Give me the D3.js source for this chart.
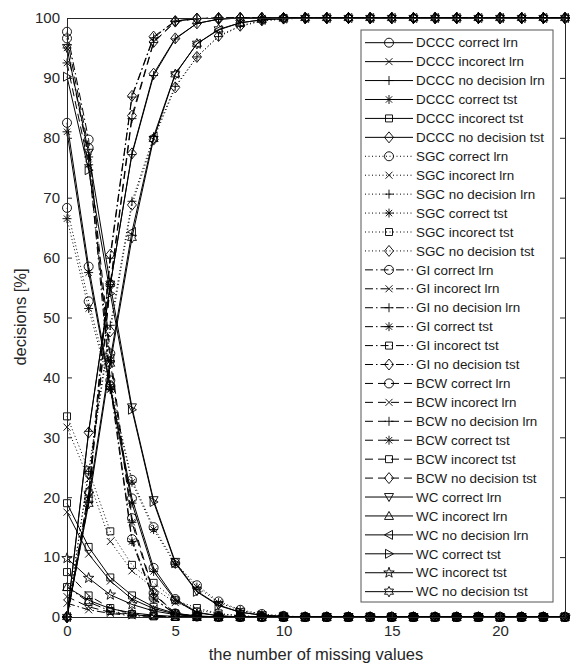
<!DOCTYPE html>
<html>
<head>
<meta charset="utf-8">
<script src="https://cdn.jsdelivr.net/npm/d3@7"></script>
<style>
  body { margin: 0; background: #fff; }
  text { font-family: "Liberation Sans", Arial, sans-serif; }
</style>
</head>
<body>
<script>
// x = number of missing values
var xVals = [0,1,2,3,4,5,6,7,8,9,10,11,12,13,14,15,16,17,18,19,20,21,22,23];
var xTicks = [0,5,10,15,20];
var yTicks = [0,10,20,30,40,50,60,70,80,90,100];

// DCCC
var dcccCorLrn = [82.5,58.5,38.5,19.8,8.2,3.0,0.8,0.2,0,0,0,0, 0,0,0,0,0,0,0,0,0,0,0,0];
var dcccIncLrn = [17.5,10.5,6.0,3.0,1.4,0.5,0.1,0,0,0,0,0, 0,0,0,0,0,0,0,0,0,0,0,0];
var dcccNoLrn  = [0,31.0,55.5,77.2,90.4,96.5,99.1,99.8,100,100,100,100, 100,100,100,100,100,100,100,100,100,100,100,100];
var dcccCorTst = [81.0,57.5,38.0,19.0,7.6,2.8,0.7,0.2,0,0,0,0, 0,0,0,0,0,0,0,0,0,0,0,0];
var dcccIncTst = [19.0,11.7,6.6,3.6,1.7,0.6,0.2,0,0,0,0,0, 0,0,0,0,0,0,0,0,0,0,0,0];
var dcccNoTst  = [0,30.8,55.4,77.4,90.7,96.6,99.1,99.8,100,100,100,100, 100,100,100,100,100,100,100,100,100,100,100,100];
// SGC
var sgcCorLrn = [68.3,52.7,38.7,22.9,15.0,9.0,5.3,2.6,1.2,0.5,0.2,0, 0,0,0,0,0,0,0,0,0,0,0,0];
var sgcIncLrn = [31.7,23.0,12.6,7.7,4.8,2.4,1.2,0.5,0.2,0,0,0, 0,0,0,0,0,0,0,0,0,0,0,0];
var sgcNoLrn  = [0,24.3,48.7,69.4,80.2,88.6,93.5,96.9,98.6,99.5,99.8,100, 100,100,100,100,100,100,100,100,100,100,100,100];
var sgcCorTst = [66.5,51.5,38.0,22.5,14.6,8.8,5.0,2.4,1.1,0.4,0.1,0, 0,0,0,0,0,0,0,0,0,0,0,0];
var sgcIncTst = [33.5,24.5,14.3,8.7,5.7,2.8,1.5,0.6,0.2,0,0,0, 0,0,0,0,0,0,0,0,0,0,0,0];
var sgcNoTst  = [0,24.0,47.7,68.8,79.7,88.4,93.5,97.0,98.7,99.6,99.9,100, 100,100,100,100,100,100,100,100,100,100,100,100];
// GI
var giCorLrn = [97.7,79.7,39.5,13.0,3.2,0.5,0.1,0,0,0,0,0, 0,0,0,0,0,0,0,0,0,0,0,0];
var giIncLrn = [2.3,1.2,0.6,0.2,0.1,0,0,0,0,0,0,0, 0,0,0,0,0,0,0,0,0,0,0,0];
var giNoLrn  = [0,19.1,59.9,86.8,96.7,99.5,99.9,100,100,100,100,100, 100,100,100,100,100,100,100,100,100,100,100,100];
var giCorTst = [95.0,76.8,38.5,12.6,3.0,0.5,0.1,0,0,0,0,0, 0,0,0,0,0,0,0,0,0,0,0,0];
var giIncTst = [5.0,2.5,1.0,0.4,0.1,0,0,0,0,0,0,0, 0,0,0,0,0,0,0,0,0,0,0,0];
var giNoTst  = [0,20.7,60.5,87.0,96.9,99.5,99.9,100,100,100,100,100, 100,100,100,100,100,100,100,100,100,100,100,100];
// BCW
var bcwCorLrn = [96.6,78.3,44.0,16.5,4.0,0.6,0.1,0,0,0,0,0, 0,0,0,0,0,0,0,0,0,0,0,0];
var bcwIncLrn = [3.4,1.7,0.8,0.3,0.1,0,0,0,0,0,0,0, 0,0,0,0,0,0,0,0,0,0,0,0];
var bcwNoLrn  = [0,20.0,55.2,83.2,95.9,99.4,99.9,100,100,100,100,100, 100,100,100,100,100,100,100,100,100,100,100,100];
var bcwCorTst = [92.5,75.5,42.8,15.8,3.8,0.6,0.1,0,0,0,0,0, 0,0,0,0,0,0,0,0,0,0,0,0];
var bcwIncTst = [7.5,3.6,1.5,0.5,0.2,0,0,0,0,0,0,0, 0,0,0,0,0,0,0,0,0,0,0,0];
var bcwNoTst  = [0,20.9,55.7,83.7,96.0,99.4,99.9,100,100,100,100,100, 100,100,100,100,100,100,100,100,100,100,100,100];
// WC
var wcCorLrn = [95.0,77.5,55.5,35.0,19.5,9.2,4.3,2.0,0.8,0.3,0.1,0, 0,0,0,0,0,0,0,0,0,0,0,0];
var wcIncLrn = [5.0,2.8,1.4,0.7,0.3,0.1,0,0,0,0,0,0, 0,0,0,0,0,0,0,0,0,0,0,0];
var wcNoLrn  = [0,19.7,43.1,64.3,80.2,90.7,95.7,98.0,99.2,99.7,99.9,100, 100,100,100,100,100,100,100,100,100,100,100,100];
var wcCorTst = [90.2,74.6,54.0,34.6,19.2,9.0,4.2,1.9,0.8,0.3,0.1,0, 0,0,0,0,0,0,0,0,0,0,0,0];
var wcIncTst = [9.8,6.5,3.7,2.1,1.0,0.4,0.1,0,0,0,0,0, 0,0,0,0,0,0,0,0,0,0,0,0];
var wcNoTst  = [0,18.9,42.3,63.3,79.8,90.6,95.7,98.1,99.2,99.7,99.9,100, 100,100,100,100,100,100,100,100,100,100,100,100];

var SOLID = null, DOT = "1,2.5", DASHDOT = "8,3,1.5,3", DASH = "8,5";

var series = [
  {name: "DCCC correct lrn",      vals: dcccCorLrn, dash: SOLID,   mk: "o"},
  {name: "DCCC incorect lrn",     vals: dcccIncLrn, dash: SOLID,   mk: "x"},
  {name: "DCCC no decision lrn",  vals: dcccNoLrn,  dash: SOLID,   mk: "+"},
  {name: "DCCC correct tst",      vals: dcccCorTst, dash: SOLID,   mk: "*"},
  {name: "DCCC incorect tst",     vals: dcccIncTst, dash: SOLID,   mk: "s"},
  {name: "DCCC no decision tst",  vals: dcccNoTst,  dash: SOLID,   mk: "d"},
  {name: "SGC correct lrn",       vals: sgcCorLrn,  dash: DOT,     mk: "o"},
  {name: "SGC incorect lrn",      vals: sgcIncLrn,  dash: DOT,     mk: "x"},
  {name: "SGC no decision lrn",   vals: sgcNoLrn,   dash: DOT,     mk: "+"},
  {name: "SGC correct tst",       vals: sgcCorTst,  dash: DOT,     mk: "*"},
  {name: "SGC incorect tst",      vals: sgcIncTst,  dash: DOT,     mk: "s"},
  {name: "SGC no decision tst",   vals: sgcNoTst,   dash: DOT,     mk: "d"},
  {name: "GI correct lrn",        vals: giCorLrn,   dash: DASHDOT, mk: "o"},
  {name: "GI incorect lrn",       vals: giIncLrn,   dash: DASHDOT, mk: "x"},
  {name: "GI no decision lrn",    vals: giNoLrn,    dash: DASHDOT, mk: "+"},
  {name: "GI correct tst",        vals: giCorTst,   dash: DASHDOT, mk: "*"},
  {name: "GI incorect tst",       vals: giIncTst,   dash: DASHDOT, mk: "s"},
  {name: "GI no decision tst",    vals: giNoTst,    dash: DASHDOT, mk: "d"},
  {name: "BCW correct lrn",       vals: bcwCorLrn,  dash: DASH,    mk: "o"},
  {name: "BCW incorect lrn",      vals: bcwIncLrn,  dash: DASH,    mk: "x"},
  {name: "BCW no decision lrn",   vals: bcwNoLrn,   dash: DASH,    mk: "+"},
  {name: "BCW correct tst",       vals: bcwCorTst,  dash: DASH,    mk: "*"},
  {name: "BCW incorect tst",      vals: bcwIncTst,  dash: DASH,    mk: "s"},
  {name: "BCW no decision tst",   vals: bcwNoTst,   dash: DASH,    mk: "d"},
  {name: "WC correct lrn",        vals: wcCorLrn,   dash: SOLID,   mk: "v"},
  {name: "WC incorect lrn",       vals: wcIncLrn,   dash: SOLID,   mk: "^"},
  {name: "WC no decision lrn",    vals: wcNoLrn,    dash: SOLID,   mk: "<"},
  {name: "WC correct tst",        vals: wcCorTst,   dash: SOLID,   mk: ">"},
  {name: "WC incorect tst",       vals: wcIncTst,   dash: SOLID,   mk: "p"},
  {name: "WC no decision tst",    vals: wcNoTst,    dash: SOLID,   mk: "h"}
];

var W = 572, H = 666;
var x = d3.scaleLinear().domain([0, 23]).range([67, 565]);
var y = d3.scaleLinear().domain([0, 100]).range([617, 18]);
var axisCol = "#262626";

// star shaped markers
function star(n, ro, ri) {
  var p = [];
  for (var k = 0; k < 2 * n; k++) {
    var a = -Math.PI / 2 + k * Math.PI / n, r = (k % 2) ? ri : ro;
    p.push((r * Math.cos(a)).toFixed(2) + "," + (r * Math.sin(a)).toFixed(2));
  }
  return "M" + p.join("L") + "Z";
}
function markerPath(t) {
  switch (t) {
    case "o": return "M-4.5,0A4.5,4.5 0 1 0 4.5,0A4.5,4.5 0 1 0 -4.5,0Z";
    case "x": return "M-3.5,-3.5L3.5,3.5M-3.5,3.5L3.5,-3.5";
    case "+": return "M-4.5,0L4.5,0M0,-4.5L0,4.5";
    case "*": return "M-4.5,0L4.5,0M0,-4.5L0,4.5M-3.2,-3.2L3.2,3.2M-3.2,3.2L3.2,-3.2";
    case "s": return "M-3.5,-3.5H3.5V3.5H-3.5Z";
    case "d": return "M0,-5.5L4.5,0L0,5.5L-4.5,0Z";
    case "v": return "M-4.5,-3.5L4.5,-3.5L0,4.5Z";
    case "^": return "M-4.5,3.5L4.5,3.5L0,-4.5Z";
    case "<": return "M3.5,-4.5L3.5,4.5L-4.5,0Z";
    case ">": return "M-3.5,-4.5L-3.5,4.5L4.5,0Z";
    case "p": return star(5, 5.5, 2.2);
    case "h": return star(6, 5.2, 2.9);
  }
}

var svg = d3.select("body").append("svg")
  .attr("width", W).attr("height", H);

var line = d3.line()
  .x(function (d, i) { return x(xVals[i]); })
  .y(function (d) { return y(d); });

// plot the series, later ones on top
series.forEach(function (s) {
  var g = svg.append("g");
  g.append("path")
    .attr("d", line(s.vals))
    .attr("fill", "none")
    .attr("stroke", "#000")
    .attr("stroke-width", 1)
    .attr("stroke-dasharray", s.dash);
  g.selectAll("path.m")
    .data(s.vals)
    .enter().append("path")
    .attr("class", "m")
    .attr("transform", function (d, i) { return "translate(" + x(xVals[i]) + "," + y(d) + ")"; })
    .attr("d", markerPath(s.mk))
    .attr("fill", "none")
    .attr("stroke", "#000")
    .attr("stroke-width", 0.9);
});

// axes (box on, ticks inward)
function styleAxis(g) {
  g.attr("font-family", "Liberation Sans, Arial, sans-serif").attr("font-size", 15);
  g.selectAll("path, line").attr("stroke", axisCol);
  g.selectAll("text").attr("fill", axisCol);
}
svg.append("g").attr("transform", "translate(0,617)")
  .call(d3.axisBottom(x).tickValues(xTicks).tickSizeInner(-5).tickSizeOuter(0).tickPadding(8))
  .call(styleAxis);
svg.append("g").attr("transform", "translate(0,18)")
  .call(d3.axisTop(x).tickValues(xTicks).tickSizeInner(-5).tickSizeOuter(0).tickFormat(""))
  .call(styleAxis);
svg.append("g").attr("transform", "translate(67,0)")
  .call(d3.axisLeft(y).tickValues(yTicks).tickSizeInner(-5).tickSizeOuter(0).tickPadding(7))
  .call(styleAxis);
svg.append("g").attr("transform", "translate(565,0)")
  .call(d3.axisRight(y).tickValues(yTicks).tickSizeInner(-5).tickSizeOuter(0).tickFormat(""))
  .call(styleAxis);

svg.append("text")
  .attr("x", 316).attr("y", 660)
  .attr("text-anchor", "middle")
  .attr("font-size", 16.5)
  .attr("fill", axisCol)
  .text("the number of missing values");
svg.append("text")
  .attr("transform", "translate(26,317) rotate(-90)")
  .attr("text-anchor", "middle")
  .attr("font-size", 16.5)
  .attr("fill", axisCol)
  .text("decisions [%]");

// legend
var leg = svg.append("g");
leg.append("rect")
  .attr("x", 361).attr("y", 30).attr("width", 192).attr("height", 572)
  .attr("fill", "#fff").attr("stroke", "#555").attr("stroke-width", 1);
var item = leg.selectAll("g.item")
  .data(series)
  .enter().append("g")
  .attr("class", "item")
  .attr("transform", function (d, i) { return "translate(0," + (42.7 + i * 18.93) + ")"; });
item.append("line")
  .attr("x1", 365).attr("x2", 413)
  .attr("stroke", "#000").attr("stroke-width", 1)
  .attr("stroke-dasharray", function (d) { return d.dash; });
item.append("path")
  .attr("transform", "translate(389,0)")
  .attr("d", function (d) { return markerPath(d.mk); })
  .attr("fill", "none").attr("stroke", "#000").attr("stroke-width", 0.9);
item.append("text")
  .attr("x", 416).attr("dy", "0.35em")
  .attr("font-size", 13.4)
  .attr("fill", "#1a1a1a")
  .text(function (d) { return d.name; });
</script>
</body>
</html>
